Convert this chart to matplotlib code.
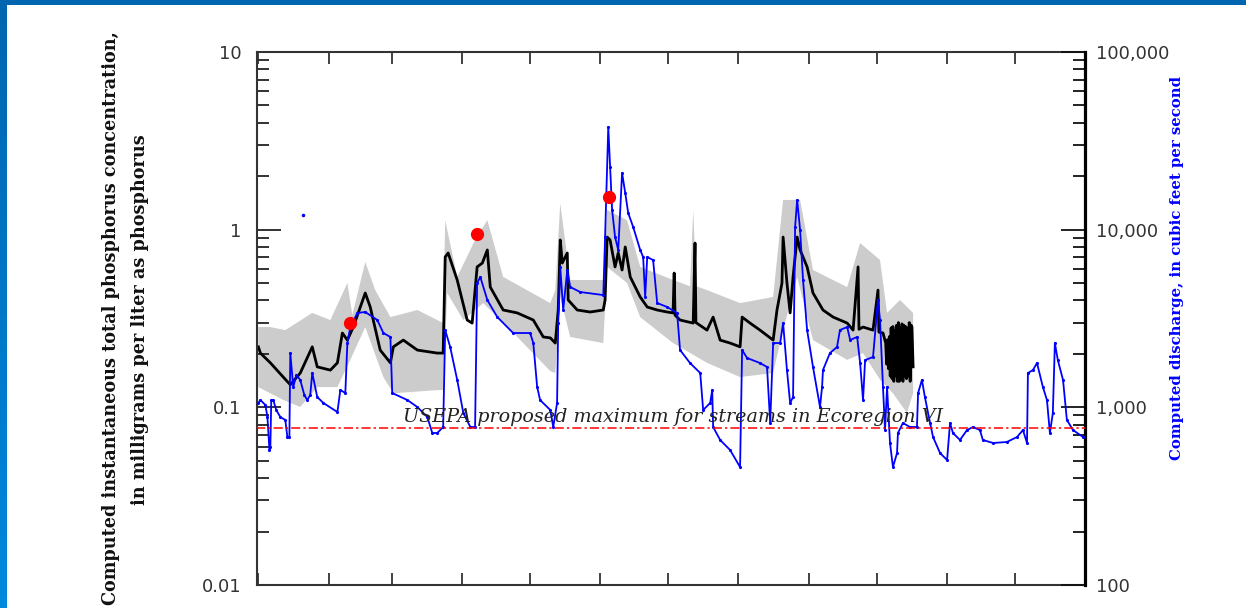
import numpy as np
import matplotlib
matplotlib.use("Agg")
from matplotlib import pyplot as plt
from matplotlib.colors import LinearSegmentedColormap
from matplotlib.ticker import FixedLocator, FixedFormatter, LogLocator, NullFormatter

# day of year, computed total phosphorus (mg/L)
conc_day = [0, 0.9, 5.3, 11.0, 14.1, 18.5, 23.8, 26.0, 31.8, 34.9, 37.1, 39.3, 41.9, 47.2, 49.4,
            53.8, 58.3, 59.6, 64.0, 70.2, 79.0, 81.6, 82.5, 83.8, 87.8, 92.2, 94.4, 96.6, 98.9,
            101.1, 102.4, 108.1, 114.3, 121.4, 125.8, 128.9, 131.1, 132.4, 133.3, 134.2, 136.4,
            136.8, 140.8, 146.5, 152.3, 153.1, 154.0, 155.3, 157.5, 158.9, 160.6, 162.0, 164.2,
            168.6, 171.7, 176.1, 180.5, 183.1, 183.6, 184.0, 186.2, 192.0, 192.8, 193.2, 198.1,
            200.8, 203.9, 208.3, 212.7, 213.6, 217.1, 221.5, 227.3, 229.0, 231.2, 231.7, 233.4,
            234.8, 236.1, 237.9, 239.2, 242.3, 244.9, 249.3, 253.8, 260.0, 262.6, 264.8, 265.2,
            267.0, 271.4, 273.6, 274.0, 275.8, 277.0, 277.4, 277.8, 278.2, 278.6, 279.0, 279.4,
            279.8, 280.2, 280.6, 281.0, 281.4, 281.8, 282.2, 282.6, 283.0, 283.4, 283.8, 284.2,
            284.6, 285.0, 285.4, 285.8, 286.2, 286.6, 287.0, 287.4, 287.8, 288.2, 288.6, 289.1]
conc_val = [0.219, 0.202, 0.178, 0.148, 0.134, 0.156, 0.219, 0.169, 0.162, 0.178, 0.262, 0.239,
            0.283, 0.440, 0.367, 0.210, 0.178, 0.219, 0.239, 0.210, 0.202, 0.202, 0.702, 0.739,
            0.521, 0.310, 0.298, 0.617, 0.649, 0.769, 0.475, 0.353, 0.340, 0.310, 0.249, 0.246,
            0.230, 0.353, 0.875, 0.649, 0.739, 0.402, 0.353, 0.344, 0.353, 0.402, 0.909, 0.875,
            0.617, 0.739, 0.593, 0.799, 0.542, 0.418, 0.367, 0.353, 0.344, 0.340, 0.570, 0.330,
            0.310, 0.298, 0.841, 0.300, 0.272, 0.322, 0.239, 0.230, 0.219, 0.322, 0.298, 0.272,
            0.239, 0.353, 0.501, 0.909, 0.501, 0.340, 0.542, 0.909, 0.769, 0.617, 0.440, 0.353,
            0.322, 0.298, 0.272, 0.617, 0.275, 0.283, 0.272, 0.457, 0.265, 0.262, 0.230, 0.175,
            0.240, 0.165, 0.250, 0.150, 0.280, 0.145, 0.285, 0.140, 0.270, 0.150, 0.290, 0.140,
            0.300, 0.140, 0.280, 0.145, 0.295, 0.140, 0.290, 0.150, 0.285, 0.145, 0.280, 0.150,
            0.300, 0.140, 0.290, 0.283, 0.169]

# uncertainty band edges (mg/L)
band_hi_day = [0, 5.3, 11.9, 23.8, 31.8, 39.3, 41.5, 47.2, 51.6, 58.3, 70.2, 81.6, 82.5, 87.8,
               95.7, 101.1, 108.1, 128.9, 131.1, 133.3, 137.7, 152.3, 154.0, 162.8, 168.6, 183.1,
               190.6, 192.0, 193.4, 198.1, 212.7, 227.3, 231.7, 239.2, 244.9, 260.0, 265.7, 274.5,
               277.6, 283.3, 289.1]
band_hi_val = [0.283, 0.283, 0.272, 0.340, 0.310, 0.501, 0.331, 0.658, 0.457, 0.322, 0.353, 0.298,
               1.13, 0.542, 0.875, 1.13, 0.542, 0.386, 0.457, 1.41, 0.521, 0.521, 1.29, 1.13, 0.617,
               0.521, 0.480, 1.29, 0.480, 0.457, 0.386, 0.418, 1.47, 1.47, 0.593, 0.475, 0.841,
               0.675, 0.340, 0.402, 0.340]
band_lo_day = [0, 11.0, 18.5, 26.0, 34.9, 40.6, 47.2, 55.2, 59.6, 79.0, 81.6, 83.4, 90.5, 99.3,
               114.3, 128.9, 131.1, 133.3, 137.7, 152.3, 154.0, 162.8, 168.6, 183.1, 198.1, 212.7,
               227.3, 231.7, 237.9, 244.9, 260.0, 267.0, 274.5, 280.2, 286.4, 289.1]
band_lo_val = [0.130, 0.110, 0.1005, 0.130, 0.130, 0.185, 0.283, 0.148, 0.120, 0.125, 0.125, 0.440,
               0.310, 0.386, 0.249, 0.160, 0.156, 0.418, 0.249, 0.230, 0.617, 0.501, 0.322, 0.230,
               0.178, 0.148, 0.156, 0.272, 0.542, 0.239, 0.185, 0.202, 0.143, 0.120, 0.093, 0.120]

# computed discharge (cubic feet per second)
q_day = [0, 0.9, 3.1, 4.0, 4.9, 5.3, 5.7, 6.6, 7.9, 9.7, 11.9, 12.8, 13.7, 14.1, 15.4, 16.8,
         18.5, 20.3, 21.6, 22.9, 23.8, 26.0, 28.7, 34.9, 36.2, 38.4, 39.3, 40.6, 43.7, 47.2,
         52.5, 55.2, 58.3, 59.1, 65.8, 70.2, 74.6, 76.8, 79.0, 81.6, 82.5, 84.7, 87.8, 90.5,
         93.6, 95.7, 96.6, 98.0, 101.1, 105.5, 112.5, 120.0, 121.4, 123.1, 124.4, 128.9, 130.2,
         131.9, 132.4, 133.3, 134.6, 136.4, 137.7, 142.1, 152.3, 153.1, 154.5, 155.3, 156.2,
         157.5, 158.9, 160.6, 162.0, 163.3, 165.5, 168.6, 169.9, 170.8, 171.7, 174.3, 176.1,
         180.5, 184.9, 186.2, 190.6, 195.1, 196.4, 199.5, 200.4, 200.8, 203.9, 208.3, 212.7,
         213.6, 215.8, 221.5, 224.6, 226.0, 227.3, 230.4, 231.7, 233.4, 234.8, 236.1, 237.0,
         237.9, 239.2, 240.5, 242.3, 244.9, 248.0, 248.9, 249.3, 252.4, 255.5, 256.8, 260.0,
         261.3, 264.4, 265.7, 267.0, 267.9, 271.4, 273.6, 274.5, 275.8, 276.7, 277.6, 278.9,
         280.2, 282.0, 282.4, 284.6, 287.7, 290.8, 291.3, 293.0, 294.3, 296.6, 297.9, 301.0,
         304.1, 305.4, 306.7, 309.8, 312.9, 315.5, 318.6, 319.9, 324.4, 330.5, 335.0, 337.6,
         339.4, 339.8, 342.0, 343.8, 346.4, 348.2, 349.5, 350.8, 351.7, 353.0, 355.3, 357.0,
         359.7, 364.1]
q_val = [1058, 1099, 1031, 882, 575, 598, 1099, 1099, 966, 882, 849, 681, 681, 2023, 1302, 1520,
         1426, 1173, 1099, 1173, 1560, 1143, 1058, 941, 1252, 1204, 2301, 2831, 3396, 3441,
         3102, 2620, 2489, 1204, 1099, 1004, 882, 717, 717, 775, 2723, 2186, 1426, 929,
         775, 775, 5010, 5415, 4018, 3222, 2620, 2620, 2301, 1302, 1099, 966, 775,
         1058, 2983, 6166, 3532, 5929, 4755, 4457, 4285, 9093, 37830, 22530, 12910,
         9093, 7690, 20840, 16080, 12410, 10350, 7690, 7015, 4178, 7015, 6745, 3866,
         3670, 3396, 2102, 1776, 1560, 966, 1058, 1252, 775, 655, 575, 461,
         2102, 1895, 1776, 1687, 816, 2301, 2301, 2983, 1622, 1058, 1143, 10350,
         14690, 9954, 5212, 2723, 1687, 1004, 1302, 1622, 2023, 2186, 2723, 2831,
         2393, 2489, 1776, 1099, 1845, 1920, 4018, 3102, 1302, 745, 1302, 630,
         461, 553, 717, 816, 775, 775, 1204, 1426, 1143, 816, 681, 553,
         505, 816, 717, 655, 745, 775, 745, 655, 630, 638, 681, 745,
         630, 1560, 1622, 1776, 1302, 1099, 717, 929, 2301, 1845, 1426, 849,
         745, 681]

# discrete samples
sample_day = [40.6, 96.6, 154.9]
sample_conc = [0.298, 0.945, 1.527]
stray_q_day = [19.9]
stray_q_val = [12090]

criterion = 0.07625
criterion_label = "USEPA proposed maximum for streams in Ecoregion VI"

month_starts = [0, 31, 59, 90, 120, 151, 181, 212, 243, 273, 304, 334]
conc_ticks = [0.01, 0.1, 1, 10]
conc_tick_labels = ["0.01", "0.1", "1", "10"]
q_ticks = [100, 1000, 10000, 100000]
q_tick_labels = ["100", "1,000", "10,000", "100,000"]

W, H = 1246, 608
fig = plt.figure(figsize=(W / 100, H / 100), dpi=100)

# blue slide frame
frame_cmap = LinearSegmentedColormap.from_list("frame", ["#0066B0", "#0088DD"])
side = fig.add_axes([0, 0, 7 / W, 1])
side.imshow(np.linspace(0, 1, 50).reshape(-1, 1), aspect="auto", cmap=frame_cmap)
side.set_axis_off()
top = fig.add_axes([0, 1 - 5 / H, 1, 5 / H])
top.set_facecolor("#0066B0")
top.set_xticks([])
top.set_yticks([])
for s in top.spines.values():
    s.set_visible(False)

ax = fig.add_axes([257 / W, 1 - 585 / H, (1085 - 257) / W, (585 - 52) / H])
ax2 = ax.twinx()

band_x = np.concatenate([band_hi_day, band_lo_day[::-1]])
band_y = np.concatenate([band_hi_val, band_lo_val[::-1]])
ax.fill(band_x, band_y, color="#CCCCCC", lw=0, zorder=1)
ax.plot(conc_day, conc_val, color="black", lw=2.0, zorder=2)

ax2.plot(q_day, q_val, color="#0000FF", lw=1.3, marker=".", ms=2.5, zorder=3)
ax2.plot(stray_q_day, stray_q_val, ls="none", marker=".", ms=3, color="#0000FF")

# items in concentration units but drawn above the discharge trace
ax2.plot([-1, 366], [criterion, criterion], transform=ax.transData, color="red", lw=1.1,
         ls=(0, (6, 2, 1.5, 2)), zorder=4)
ax2.plot(sample_day, sample_conc, transform=ax.transData, ls="none", marker="o", ms=8.5,
         color="#FF0000", zorder=6)
ax2.text(64.0, 0.0826, criterion_label, transform=ax.transData, fontsize=13.8,
         family="DejaVu Serif", style="italic", color="#222222", va="baseline", ha="left",
         zorder=5)

ax.set_yscale("log")
ax2.set_yscale("log")
ax.set_ylim(0.01, 10)
ax2.set_ylim(100, 100000)
ax.set_xlim(-0.6, 365)

ax.xaxis.set_major_locator(FixedLocator(month_starts))
ax.xaxis.set_major_formatter(NullFormatter())
ax.tick_params(axis="x", which="major", direction="in", length=8.5, width=1.3, top=True,
               bottom=True, color="#333333")

ax.yaxis.set_major_locator(FixedLocator(conc_ticks))
ax.yaxis.set_major_formatter(FixedFormatter(conc_tick_labels))
ax.yaxis.set_minor_locator(LogLocator(base=10, subs=np.arange(2, 10)))
ax.yaxis.set_minor_formatter(NullFormatter())
ax.tick_params(axis="y", which="major", direction="in", length=17, width=1.3, pad=11,
               labelsize=13, labelcolor="#333333", color="#222222")
ax.tick_params(axis="y", which="minor", direction="in", length=8.5, width=1.3, color="#222222")

ax2.yaxis.set_major_locator(FixedLocator(q_ticks))
ax2.yaxis.set_major_formatter(FixedFormatter(q_tick_labels))
ax2.yaxis.set_minor_locator(LogLocator(base=10, subs=np.arange(2, 10)))
ax2.yaxis.set_minor_formatter(NullFormatter())
ax2.tick_params(axis="y", which="major", direction="in", length=17, width=1.3, pad=8,
                labelsize=13, labelcolor="#333333", color="#111111")
ax2.tick_params(axis="y", which="minor", direction="in", length=8.5, width=1.3, color="#111111")

for name in ["left", "top", "bottom"]:
    ax.spines[name].set_linewidth(1.5)
    ax.spines[name].set_color("#333333")
ax2.spines["right"].set_linewidth(2.3)
ax2.spines["right"].set_color("black")
for name in ["left", "top", "bottom"]:
    ax2.spines[name].set_visible(False)

fig.text(111 / W, 1 - 318 / H, "Computed instantaneous total phosphorus concentration,",
         rotation=90, ha="center", va="center", family="DejaVu Serif", weight="bold",
         fontsize=12.7, color="#111111")
fig.text(140 / W, 1 - 320 / H, "in milligrams per liter as phosphorus",
         rotation=90, ha="center", va="center", family="DejaVu Serif", weight="bold",
         fontsize=12.7, color="#111111")
fig.text(1177 / W, 1 - 268 / H, "Computed discharge, in cubic feet per second",
         rotation=90, ha="center", va="center", family="DejaVu Serif", weight="bold",
         fontsize=10.7, color="#0000FF")

fig.savefig("out.png", dpi=100)
